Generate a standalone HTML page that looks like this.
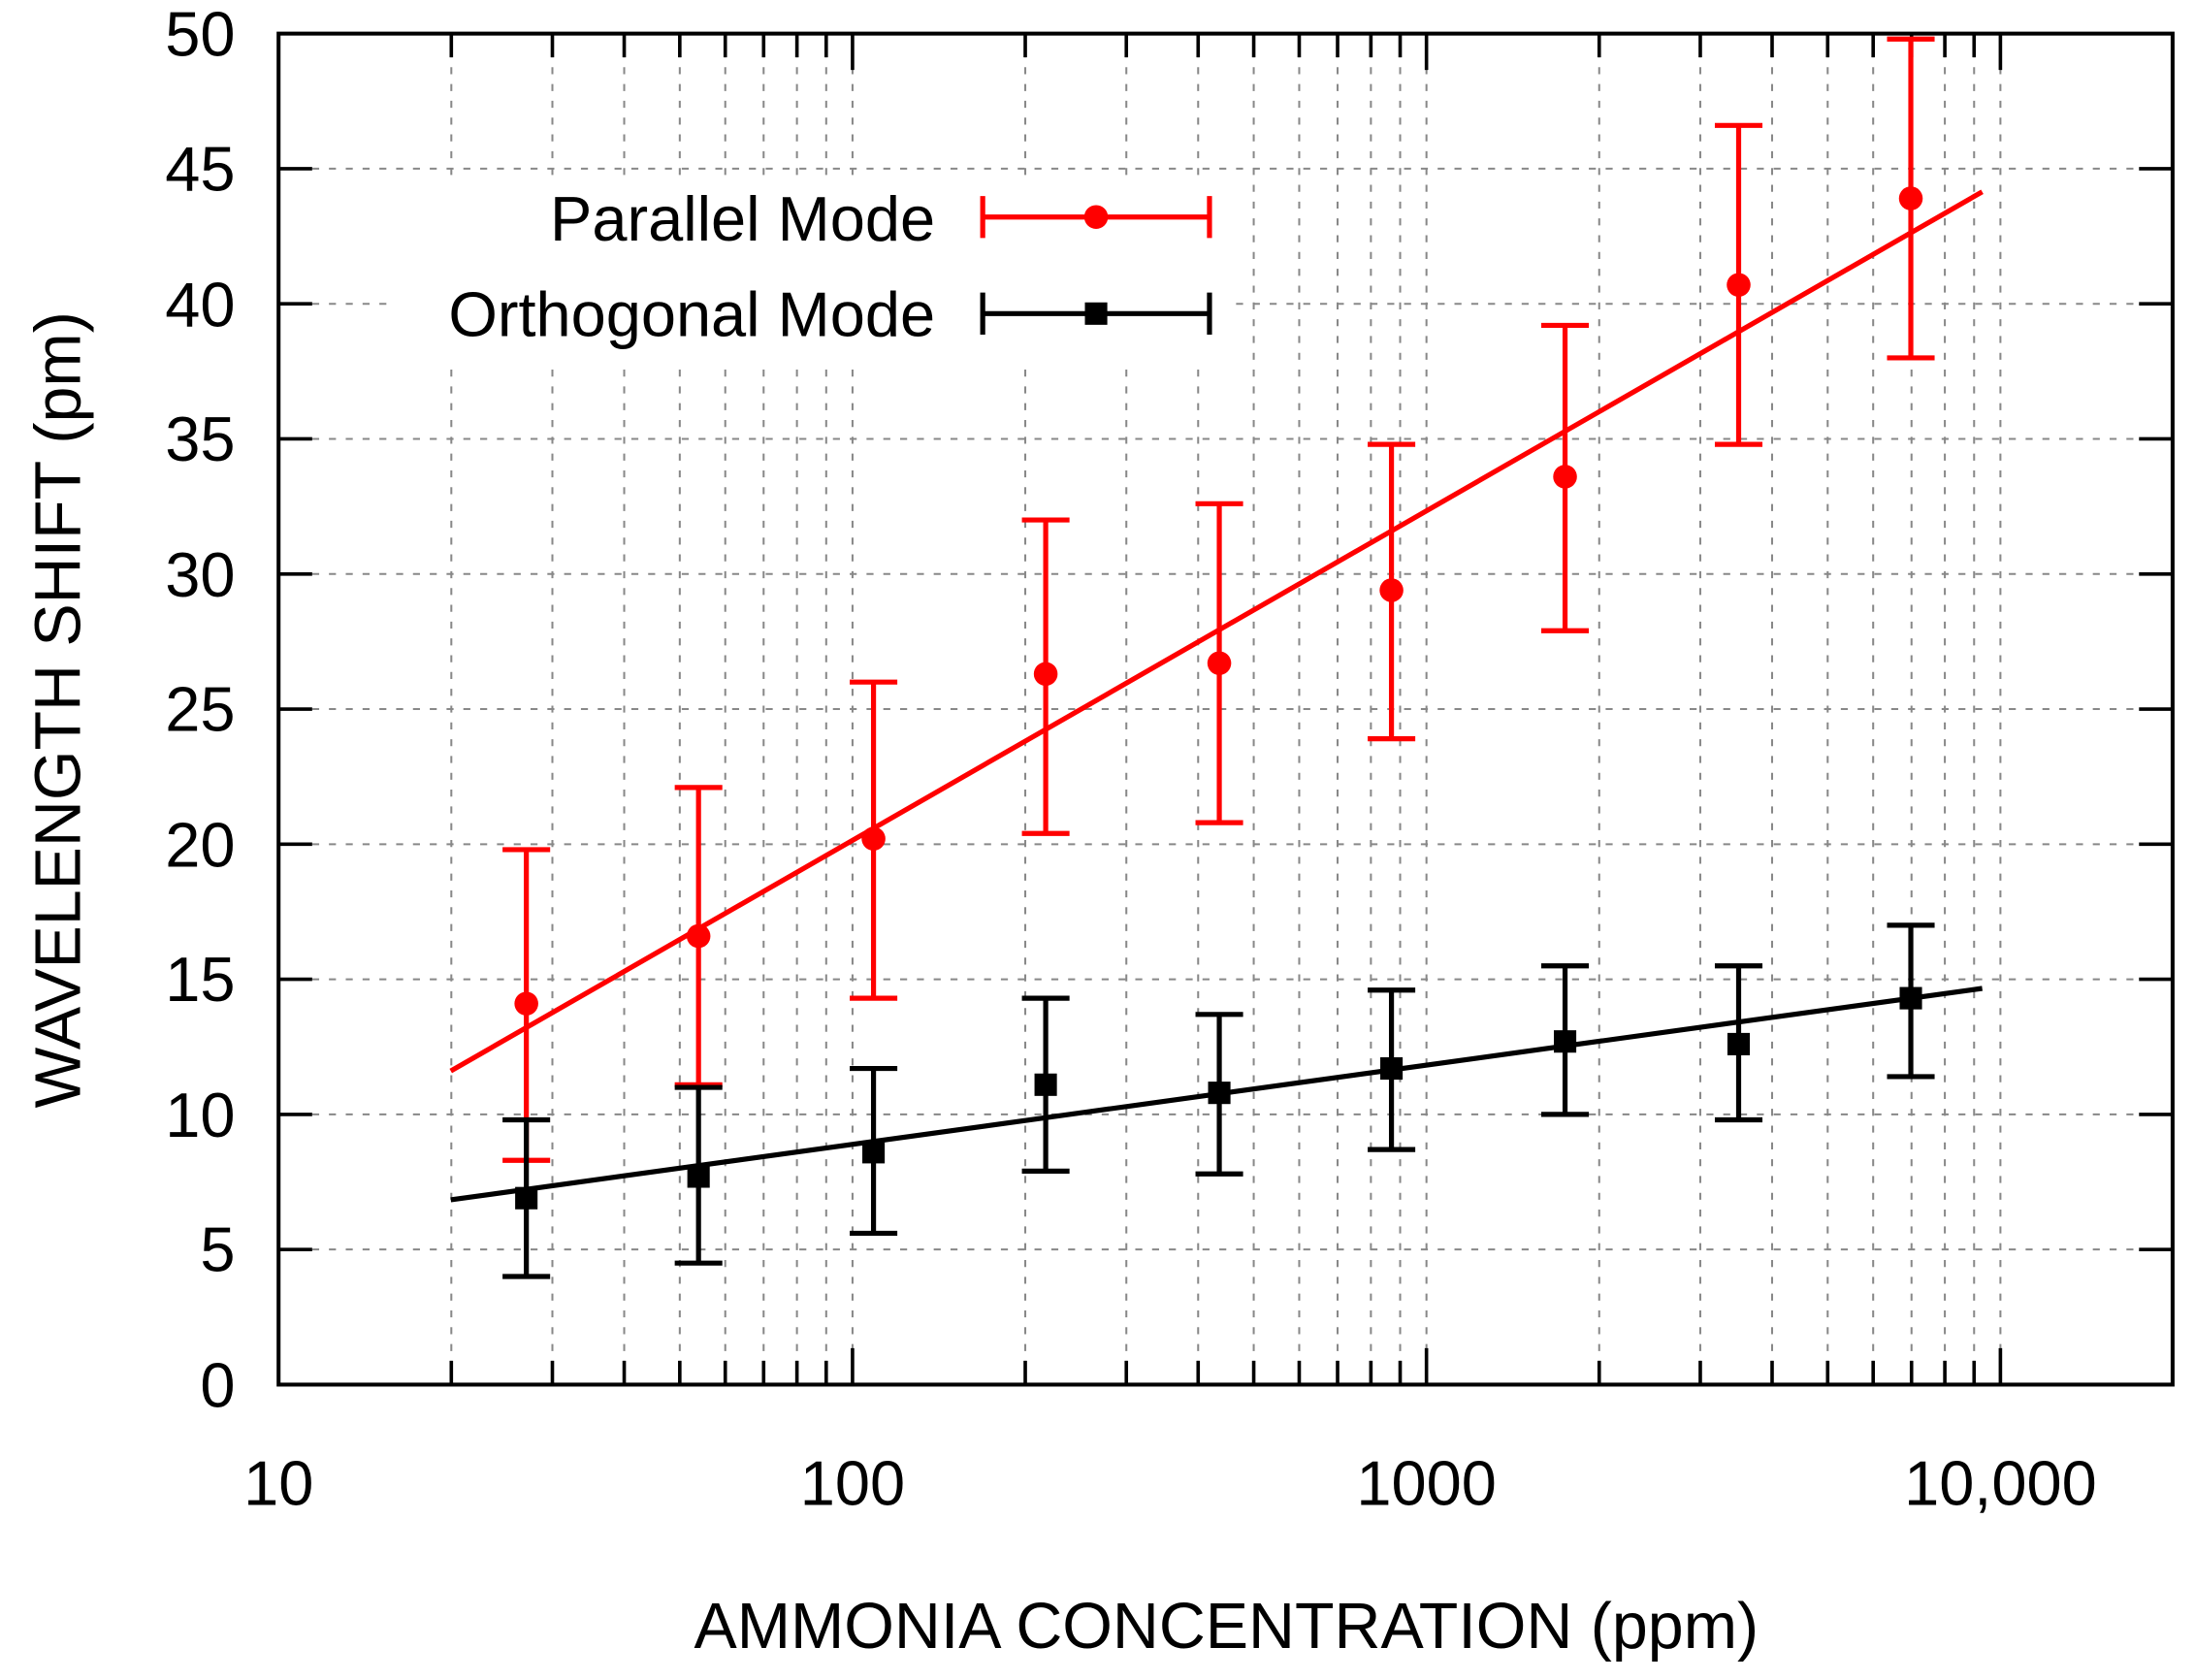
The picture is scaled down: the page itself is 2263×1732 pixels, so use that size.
<!DOCTYPE html>
<html><head><meta charset="utf-8"><style>
html,body{margin:0;padding:0;background:#fff;}
svg{display:block;}
text{font-family:"Liberation Sans",Arial,sans-serif;fill:#000;}
</style></head><body>
<svg width="2263" height="1732" viewBox="0 0 1568 1200" preserveAspectRatio="none" xmlns="http://www.w3.org/2000/svg">
<rect width="1568" height="1200" fill="#fff"/>
<g stroke="#888" stroke-width="1.4" stroke-dasharray="5,7" fill="none">
<path d="M322.4 24V989M394.6 24V989M445.9 24V989M485.6 24V989M518.1 24V989M545.5 24V989M569.3 24V989M590.2 24V989M609 24V989
M732.4 24V989M804.6 24V989M855.9 24V989M895.6 24V989M928.1 24V989M955.5 24V989M979.3 24V989M1000.2 24V989M1019 24V989
M1142.4 24V989M1214.6 24V989M1265.9 24V989M1305.6 24V989M1338.1 24V989M1365.5 24V989M1389.3 24V989M1410.2 24V989M1429 24V989"/>
<path d="M199 892.5H1552M199 796H1552M199 699.5H1552M199 603H1552M199 506.5H1552M199 410H1552M199 313.5H1552M199 217H1552M199 120.5H1552"/>
</g>
<rect x="278" y="126" width="602" height="132" fill="#fff"/>
<g stroke="#000" stroke-width="2.5" fill="none">
<path d="M199 892.5h24M199 796h24M199 699.5h24M199 603h24M199 506.5h24M199 410h24M199 313.5h24M199 217h24M199 120.5h24
M1552 892.5h-24M1552 796h-24M1552 699.5h-24M1552 603h-24M1552 506.5h-24M1552 410h-24M1552 313.5h-24M1552 217h-24M1552 120.5h-24"/>
<path d="M322.4 989v-17M394.6 989v-17M445.9 989v-17M485.6 989v-17M518.1 989v-17M545.5 989v-17M569.3 989v-17M590.2 989v-17M609 989v-26
M732.4 989v-17M804.6 989v-17M855.9 989v-17M895.6 989v-17M928.1 989v-17M955.5 989v-17M979.3 989v-17M1000.2 989v-17M1019 989v-26
M1142.4 989v-17M1214.6 989v-17M1265.9 989v-17M1305.6 989v-17M1338.1 989v-17M1365.5 989v-17M1389.3 989v-17M1410.2 989v-17M1429 989v-26
M322.4 24v17M394.6 24v17M445.9 24v17M485.6 24v17M518.1 24v17M545.5 24v17M569.3 24v17M590.2 24v17M609 24v26
M732.4 24v17M804.6 24v17M855.9 24v17M895.6 24v17M928.1 24v17M955.5 24v17M979.3 24v17M1000.2 24v17M1019 24v26
M1142.4 24v17M1214.6 24v17M1265.9 24v17M1305.6 24v17M1338.1 24v17M1365.5 24v17M1389.3 24v17M1410.2 24v17M1429 24v26"/>
<rect x="199" y="24" width="1353" height="965" stroke-width="2.8"/>
</g>
<g font-size="45" text-anchor="end">
<text x="168" y="1005">0</text><text x="168" y="908">5</text><text x="168" y="812">10</text><text x="168" y="715">15</text>
<text x="168" y="619">20</text><text x="168" y="522">25</text><text x="168" y="426">30</text><text x="168" y="329">35</text>
<text x="168" y="233">40</text><text x="168" y="136">45</text><text x="168" y="40">50</text>
</g>
<g font-size="45" text-anchor="middle">
<text x="199" y="1075">10</text><text x="609" y="1075">100</text><text x="1019" y="1075">1000</text><text x="1429" y="1075">10,000</text>
<text x="876" y="1177" font-size="46">AMMONIA CONCENTRATION (ppm)</text>
<text transform="translate(57,507) rotate(-90)" font-size="46">WAVELENGTH SHIFT (pm)</text>
</g>
<g font-size="45" text-anchor="end">
<text x="668" y="172">Parallel Mode</text>
<text x="668" y="240">Orthogonal Mode</text>
</g>
<line x1="322" y1="765" x2="1416" y2="137" stroke="#f00" stroke-width="3.6"/>
<line x1="322" y1="857" x2="1416" y2="706" stroke="#000" stroke-width="3.6"/>
<g stroke="#f00" stroke-width="3.6" fill="none">
<path d="M376 828.8V606.9M359 828.8h34M359 606.9h34
M499 774.8V562.5M482 774.8h34M482 562.5h34
M624 713V487.2M607 713h34M607 487.2h34
M747 595.3V371.4M730 595.3h34M730 371.4h34
M871 587.6V359.8M854 587.6h34M854 359.8h34
M994 527.7V317.4M977 527.7h34M977 317.4h34
M1118 450.5V232.4M1101 450.5h34M1101 232.4h34
M1242 317.4V89.6M1225 317.4h34M1225 89.6h34
M1365 255.6V27.9M1348 255.6h34M1348 27.9h34
M702 155H864M702 140v30M864 140v30"/>
</g>
<g fill="#f00">
<circle cx="376" cy="716.9" r="8.5"/><circle cx="499" cy="668.6" r="8.5"/><circle cx="624" cy="599.1" r="8.5"/>
<circle cx="747" cy="481.4" r="8.5"/><circle cx="871" cy="473.7" r="8.5"/><circle cx="994" cy="421.6" r="8.5"/>
<circle cx="1118" cy="340.5" r="8.5"/><circle cx="1242" cy="203.5" r="8.5"/><circle cx="1365" cy="141.7" r="8.5"/>
<circle cx="783" cy="155" r="8.5"/>
</g>
<g stroke="#000" stroke-width="3.6" fill="none">
<path d="M376 911.8V799.9M359 911.8h34M359 799.9h34
M499 902.2V776.7M482 902.2h34M482 776.7h34
M624 880.9V763.2M607 880.9h34M607 763.2h34
M747 836.5V713M730 836.5h34M730 713h34
M871 838.5V724.6M854 838.5h34M854 724.6h34
M994 821.1V707.2M977 821.1h34M977 707.2h34
M1118 796V689.9M1101 796h34M1101 689.9h34
M1242 799.9V689.9M1225 799.9h34M1225 689.9h34
M1365 769V660.9M1348 769h34M1348 660.9h34
M702 224H864M702 209v30M864 209v30"/>
</g>
<g fill="#000">
<rect x="368" y="847.8" width="16" height="16"/><rect x="491" y="832.4" width="16" height="16"/><rect x="616" y="815" width="16" height="16"/>
<rect x="739" y="766.8" width="16" height="16"/><rect x="863" y="772.6" width="16" height="16"/><rect x="986" y="755.2" width="16" height="16"/>
<rect x="1110" y="735.9" width="16" height="16"/><rect x="1234" y="737.8" width="16" height="16"/><rect x="1357" y="705" width="16" height="16"/>
<rect x="775" y="216" width="16" height="16"/>
</g>
</svg>
</body></html>
